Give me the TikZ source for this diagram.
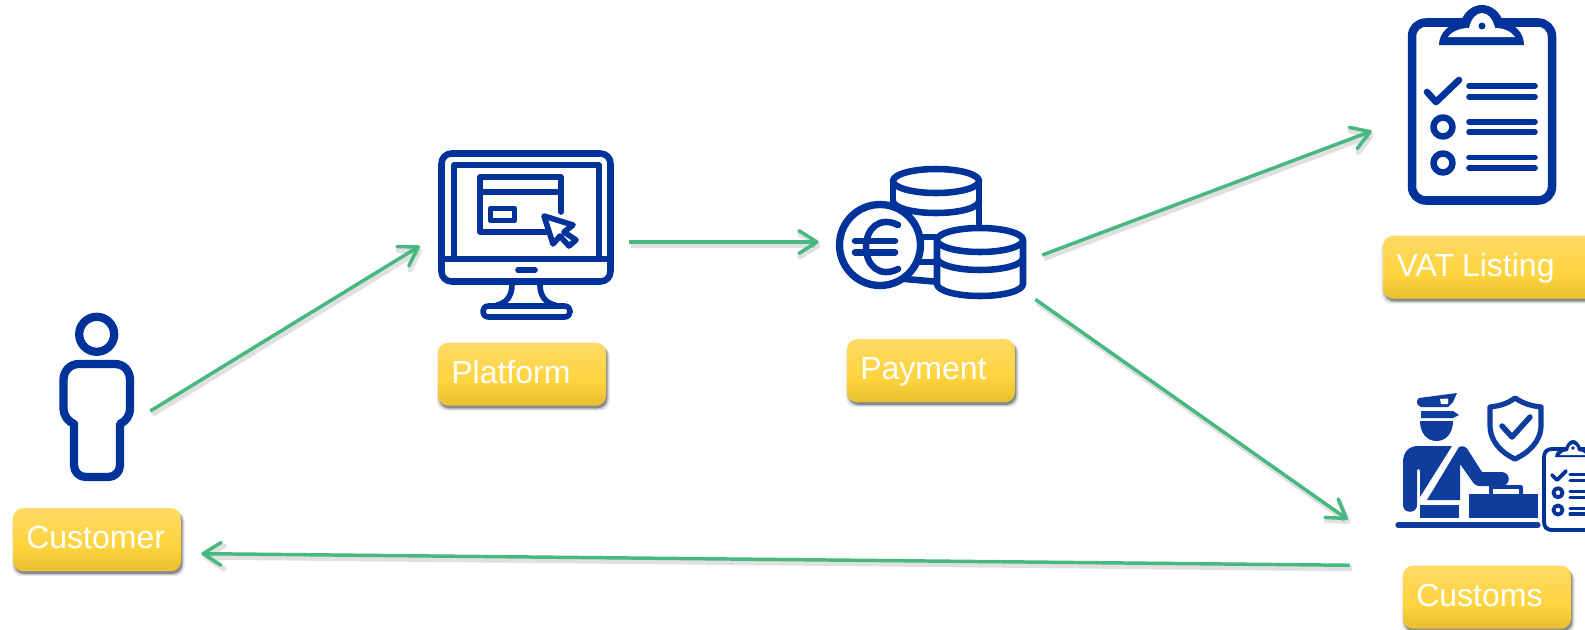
\documentclass[tikz,border=0pt]{standalone}
\usepackage{fontspec}
\setmainfont{Liberation Sans}
\usetikzlibrary{arrows.meta,shadows}
\definecolor{iconblue}{HTML}{003399}
\definecolor{customsblue}{HTML}{0F3D9E}
\definecolor{flowgreen}{HTML}{47B87F}
\definecolor{boxtop}{HTML}{FFDA66}
\definecolor{boxmid}{HTML}{FFD43E}
\definecolor{boxlow}{HTML}{EBC232}
\pgfdeclareverticalshading{boxshade}{100bp}{color(0bp)=(boxlow); color(29bp)=(boxlow); color(44bp)=(boxmid); color(75bp)=(boxtop); color(100bp)=(boxtop)}
\tikzset{
  labelbox/.style={rounded corners=7.5pt,shading=boxshade,text=white,font=\fontsize{24}{24}\selectfont,
    inner xsep=10pt,inner ysep=0pt,text width=106pt,align=left,minimum height=47.25pt,
    text height=13.5pt,text depth=0pt,yshift=-0.5pt,
    general shadow={shadow xshift=1pt,shadow yshift=-3pt,shadow scale=1.03,fill=black,fill opacity=0.08},
    general shadow={shadow xshift=1pt,shadow yshift=-2.5pt,shadow scale=1.015,fill=black,fill opacity=0.15},
    general shadow={shadow xshift=1pt,shadow yshift=-2pt,fill=black,fill opacity=0.3}},
  iconbox/.style={inner sep=0pt,minimum width=#1},
  flow/.style={draw=flowgreen,line width=2.6pt,-{Straight Barb[length=13.5pt,width=17pt,round]},
    preaction={draw=black,draw opacity=0.12,line width=4pt,transform canvas={xshift=1.5pt,yshift=-2.5pt}}},
  iconline/.style={draw=iconblue,line width=#1,line cap=round,line join=round},
  iconline/.default=4.9pt,
  customsline/.style={draw=customsblue,line width=#1,line cap=round,line join=round},
  customsline/.default=2.6pt,
}
\begin{document}
\begin{tikzpicture}[x=0.75pt,y=0.75pt,yscale=-1,xscale=1]
\path [use as bounding box,fill=white] (0,0) rectangle (1585,629);
% Icon Nodes
\node [iconbox=57pt,minimum height=126pt] (customer) at (97,397) {};
\node [iconbox=132pt,minimum height=127.5pt] (platform) at (526,235) {};
\node [iconbox=143.25pt,minimum height=98.25pt] (payment) at (931.5,232.5) {};
\node [iconbox=111pt,minimum height=150pt] (vat) at (1482,105) {};
\node [iconbox=153pt,minimum height=104.25pt] (customs) at (1498,462.5) {};
% Text Node
\node [labelbox] (customerlabel) at (97,539) {Customer};
\node [labelbox] (platformlabel) at (522,373.5) {Platform};
\node [labelbox] (paymentlabel) at (931,370) {Payment};
\node [labelbox,text width=160pt,anchor=west] (vatlabel) at (1383,266.5) {VAT\hspace{-2pt} Listing};
\node [labelbox] (customslabel) at (1487,596.5) {Customs};
%Shape: Person
\draw [iconline=6.2pt] (96.7,334.3) circle [radius=17.5];
\draw [iconline=6.2pt] (74,424) .. controls (68,421) and (63.5,416) .. (63.5,408) -- (63.5,380) .. controls (63.5,371) and (70,364) .. (79,364) -- (115,364) .. controls (124,364) and (130,371) .. (130,380) -- (130,408) .. controls (130,416) and (126,421) .. (120,424) -- (120,465) .. controls (120,472) and (115,477) .. (108,477) -- (86,477) .. controls (79,477) and (74,472) .. (74,465) -- cycle;
%Shape: Monitor
\draw [iconline] (451.5,153.5) -- (600.5,153.5) .. controls (606,153.5) and (610.5,158) .. (610.5,163.5) -- (610.5,271.5) .. controls (610.5,277) and (606,281.5) .. (600.5,281.5) -- (451.5,281.5) .. controls (446,281.5) and (441.5,277) .. (441.5,271.5) -- (441.5,163.5) .. controls (441.5,158) and (446,153.5) .. (451.5,153.5) -- cycle;
\draw [iconline] (441.5,259) -- (610.5,259);
\draw [iconline=4.2pt] (454,259) -- (454,165) -- (599,165) -- (599,259);
\draw [iconline=4.2pt] (561,212) -- (561,177) -- (480,177) -- (480,232) -- (548,232);
\draw [iconline=4.2pt] (480,192) -- (561,192);
\draw [iconline=4.2pt] (490.5,208.5) rectangle (514.5,220.5);
\draw [iconline=4.2pt] (544,216) -- (573,225) -- (564,232) -- (576,240) -- (569,246) -- (560,236) -- (553,244) -- cycle;
\draw [iconline=4.2pt] (518,270) -- (535,270);
\draw [iconline=4.2pt] (512,285) .. controls (512,295) and (507,303) .. (497,305);
\draw [iconline=4.2pt] (540,285) .. controls (540,295) and (545,303) .. (555,305);
\draw [iconline=4.2pt] (488.5,306) -- (564.5,306) .. controls (572,306) and (572,317) .. (564.5,317) -- (488.5,317) .. controls (481,317) and (481,306) .. (488.5,306) -- cycle;
%Shape: Coins
\draw [iconline] (936,181) ellipse [x radius=43,y radius=12];
\draw [iconline] (893,181) -- (893,240);
\draw [iconline] (979,181) -- (979,228);
\draw [iconline] (893,201) arc [start angle=180,end angle=0,x radius=43,y radius=12];
\draw [iconline] (915,237) -- (940,237);
\draw [iconline] (915,262) -- (940,262);
\draw [iconline] (905,279) -- (940,282);
\draw [iconline=5.5pt,fill=white] (880,245) circle [radius=40.5];
\draw [iconline] (898,225) .. controls (880,216) and (866,228) .. (866,247) .. controls (866,266) and (880,278) .. (898,269);
\draw [iconline] (855,241) -- (895,241);
\draw [iconline] (855,252.5) -- (895,252.5);
\draw [iconline,fill=white] (937,240) -- (937,284) arc [start angle=180,end angle=0,x radius=43,y radius=12] -- (1023,240) -- cycle;
\draw [iconline,fill=white] (980,240) ellipse [x radius=43,y radius=12];
\draw [iconline] (937,258) arc [start angle=180,end angle=0,x radius=43,y radius=12];
%Shape: Clipboard
\draw [iconline=6.4pt] (1426,22.5) -- (1538,22.5) .. controls (1546,22.5) and (1552,28.5) .. (1552,36.5) -- (1552,186.5) .. controls (1552,194.5) and (1546,200.5) .. (1538,200.5) -- (1426,200.5) .. controls (1418,200.5) and (1412,194.5) .. (1412,186.5) -- (1412,36.5) .. controls (1412,28.5) and (1418,22.5) .. (1426,22.5) -- cycle;
\fill [iconblue] (1439,45) .. controls (1439,32) and (1450,24) .. (1461,21) .. controls (1465,11) and (1473,5) .. (1482,5) .. controls (1491,5) and (1499,11) .. (1503,21) .. controls (1514,24) and (1524,32) .. (1524,45) -- cycle;
\fill [white] (1448,37) .. controls (1452,31) and (1461,28) .. (1469,28) .. controls (1471,19) and (1476,13) .. (1482,13) .. controls (1488,13) and (1493,19) .. (1495,28) .. controls (1503,28) and (1511,31) .. (1515,37) -- cycle;
\fill [iconblue] (1482,26) circle [radius=3.5];
\draw [iconline=5pt] (1427,92) -- (1436,102) -- (1459,80);
\draw [iconline=4.9pt] (1443,127) circle [radius=9.5];
\draw [iconline=4.9pt] (1443,163) circle [radius=9.5];
\foreach \ypos in {85.7,96.7,121.7,132,157.3,168}
  \draw [iconline=4.2pt] (1469,\ypos) -- (1535,\ypos);
%Shape: Customs officer
\fill [customsblue] (1419,398) -- (1457,393) -- (1453,402) -- (1448,407) -- (1421,407) .. controls (1416,405) and (1416,400) .. (1419,398) -- cycle;
\fill [white] (1440,399) -- (1448,398.5) -- (1448,404) -- (1441,404) -- cycle;
\fill [customsblue] (1421,411) -- (1453,411) -- (1459,415) -- (1453,418) -- (1421,418) -- cycle;
\fill [customsblue] (1420,421) -- (1453,421) .. controls (1453,433) and (1446,441) .. (1436.5,441) .. controls (1427,441) and (1420,433) .. (1420,421) -- cycle;
\fill [customsblue] (1452,446) -- (1420,497) -- (1420,472) .. controls (1420,468) and (1417,468) .. (1417,472) -- (1417,505) .. controls (1417,514) and (1403,514) .. (1403,505) -- (1403,462) .. controls (1403,452) and (1409,446) .. (1418,446) -- cycle;
\fill [customsblue] (1459,447) .. controls (1463,445) and (1466,447) .. (1468,450) -- (1482,472) -- (1502,472) .. controls (1511,473) and (1511,485) .. (1502,486) -- (1480,486) .. controls (1476,486) and (1474,484) .. (1472,481) -- (1460,464) -- (1460,500) -- (1427,500) -- cycle;
\fill [customsblue] (1420,505) rectangle (1459,518);
\fill [customsblue] (1469,494) -- (1538,494) -- (1538,518) -- (1469,518) -- cycle;
\draw [customsline=2.4pt] (1491,494) -- (1491,487) -- (1521,487) -- (1521,494);
\draw [customsline=3.9pt] (1398,525) -- (1538,525);
\draw [customsline=3.9pt] (1515,398) .. controls (1524,404) and (1532,406) .. (1541,407) -- (1541,425) .. controls (1541,442) and (1528,453) .. (1515,459) .. controls (1502,453) and (1490,442) .. (1490,425) -- (1490,407) .. controls (1499,406) and (1507,404) .. (1515,398) -- cycle;
\draw [customsline=4.1pt] (1502,426) -- (1512,437) -- (1530,417);
%Shape: Small clipboard
\draw [iconline=2.9pt] (1620,449) -- (1552,449) .. controls (1547,449) and (1544,452) .. (1544,457) -- (1544,522) .. controls (1544,527) and (1547,530) .. (1552,530) -- (1620,530);
\fill [iconblue] (1555,457) .. controls (1555,451) and (1560,449) .. (1565,448) .. controls (1567,443) and (1570,440) .. (1573,440) .. controls (1576,440) and (1579,443) .. (1581,448) .. controls (1586,449) and (1590,451) .. (1590,457) -- cycle;
\fill [white] (1560,455) .. controls (1562,452) and (1565,451) .. (1568,451) .. controls (1569,446) and (1571,444) .. (1573,444) .. controls (1575,444) and (1577,446) .. (1578,451) .. controls (1581,451) and (1584,452) .. (1586,455) -- cycle;
\fill [iconblue] (1573,448) circle [radius=1.8];
\draw [iconline=2.9pt] (1552,475) -- (1557,480) -- (1566,471);
\draw [iconline=2.9pt] (1558,492.7) circle [radius=4.5];
\draw [iconline=2.9pt] (1558,510) circle [radius=4.5];
\foreach \ypos in {474.3,480.7,491.7,497.3,508.3,514}
  \draw [iconline=2.4pt] (1570,\ypos) -- (1600,\ypos);
%Straight Lines
\draw [flow] ([shift={(15,14)}]customer.east) -- ([shift={(-18,11)}]platform.west);
\draw [flow] ([shift={(15,7)}]platform.east) -- ([shift={(-17,9.5)}]payment.west);
\draw [flow] ([shift={(15,22.5)}]payment.east) -- ([shift={(-36,26)}]vat.west);
\draw [flow] ([shift={(8,1)}]payment.south east) -- ([shift={(-48,57)}]customs.west);
\draw [flow] ([shift={(-46,33)}]customs.south west) -- ([shift={(20,14)}]customerlabel.east);
\end{tikzpicture}
\end{document}
